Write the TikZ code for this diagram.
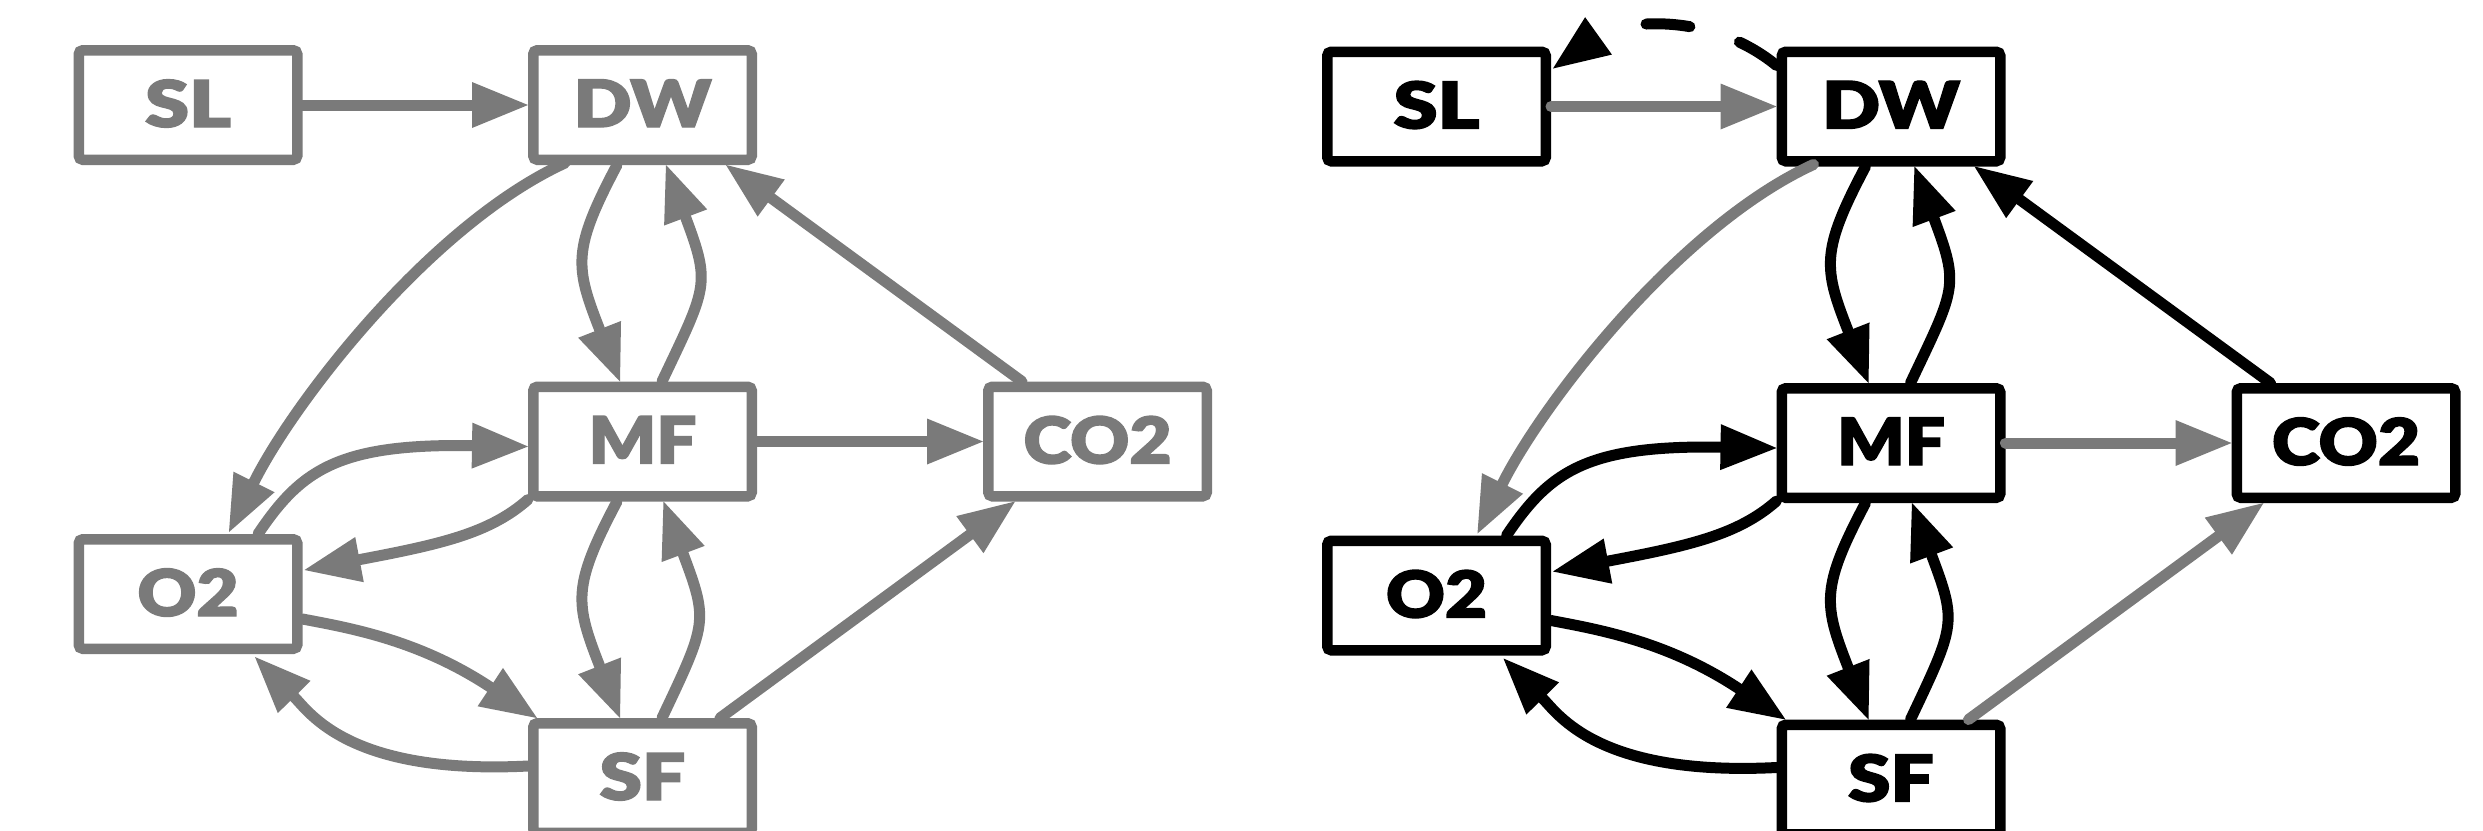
\documentclass[tikz,border=0pt]{standalone}
\usepackage{fontspec}
\usepackage{graphicx}
\IfFontExistsTF{Lato Black}
  {\newfontfamily\boxfont{Lato Black}[FakeBold=2]\newcommand\boxsel{\boxfont}}
  {\newfontfamily\boxfont{Lato}[BoldFeatures={FakeBold=2.5}]\newcommand\boxsel{\boxfont\bfseries}}
\newcommand\lbl[2]{\raisebox{0.35mm}{\resizebox{#1mm}{4.75mm}{\boxsel #2}}}
\usetikzlibrary{arrows.meta,calc}
\definecolor{eg}{RGB}{122,122,122}
\newcommand\DrawPanel[1]{%
  \node[box] (#1SL)  at (188,105)     {\lbl{8.6}{SL}};
  \node[box] (#1DW)  at (642.5,105)   {\lbl{13.8}{DW}};
  \node[box] (#1MF)  at (642.5,441.5) {\lbl{10.8}{MF}};
  \node[box] (#1CO2) at (1097.5,441.5){\lbl{14.8}{CO2}};
  \node[box] (#1O2)  at (188,594)     {\lbl{10.1}{O2}};
  \node[box] (#1SF)  at (642.5,778)   {\lbl{8.6}{SF}};
  % edges
  \draw[edge,ectwo] (#1SL.east) -- (#1DW.west);
  \draw[edge,ectwo] ($(#1DW.south)+(-77.5,-2)$) .. controls +(-135,62) and +(65,-130) .. ($(#1O2.north)+(41,-2)$);
  \draw[edge,econe] ($(#1DW.south)+(-25.5,0)$) .. controls +(-45,85) and +(-45,-115) .. ($(#1MF.north)+(-22.5,0)$);
  \draw[edge,econe] ($(#1MF.north)+(19.5,0)$) .. controls +(45,-95) and +(45,120) .. ($(#1DW.south)+(23.5,0)$);
  \draw[edge,econe] ($(#1CO2.north)+(-75.5,0)$) -- ($(#1DW.south)+(83.5,0)$);
  \draw[edge,econe] ($(#1O2.north)+(70,0)$) .. controls +(43,-64) and +(-190,-3) .. ($(#1MF.west)+(0,5)$);
  \draw[edge,econe] ($(#1MF.south west)+(0,-2)$) .. controls +(-38,33.5) and +(137.5,-26) .. ($(#1O2.east)+(2,-24)$);
  \draw[edge,econe] ($(#1O2.east)+(0,25)$) .. controls +(47.5,9) and +(-118,-78) .. ($(#1SF.north west)+(9,0)$);
  \draw[edge,econe] ($(#1SF.west)+(0,-12)$) .. controls +(-178,9) and +(55,56) .. ($(#1O2.south)+(67,3)$);
  \draw[edge,econe] ($(#1MF.south)+(-25.5,0)$) .. controls +(-45,85) and +(-45,-115) .. ($(#1SF.north)+(-22.5,0)$);
  \draw[edge,econe] ($(#1SF.north)+(19.5,0)$) .. controls +(45,-95) and +(45,120) .. ($(#1MF.south)+(21,0)$);
  \draw[edge,ectwo] (#1MF.east) -- (#1CO2.west);
  \draw[edge,ectwo] ($(#1SF.north)+(77.5,0)$) -- ($(#1CO2.south)+(-82.5,0)$);
}
\begin{document}
\begin{tikzpicture}[x=0.1mm,y=-0.1mm,
  box/.style={draw, line width=1.05mm, rounded corners=0.4mm, minimum width=21.85mm,
    minimum height=10.95mm, inner sep=0pt, fill=white},
  edge/.style={line width=1.1mm, line cap=round,
    -{Triangle[length=5.6mm,width=4.6mm,line width=0pt]}},
]
\useasboundingbox (0,0) rectangle (2483,830);
\begin{scope}[color=eg, econe/.style={eg}, ectwo/.style={eg}]
  \DrawPanel{L}
\end{scope}
\begin{scope}[xshift=124.85mm, yshift=-0.15mm, color=black, econe/.style={black}, ectwo/.style={eg}]
  \DrawPanel{R}
  \draw[edge, black, dash pattern=on 4.4mm off 5.2mm]
    ($(RDW.west)+(0,-41)$) .. controls +(-67,-55) and +(67,-48) .. ($(RSL.east)+(2,-38)$);
\end{scope}
\end{tikzpicture}
\end{document}
